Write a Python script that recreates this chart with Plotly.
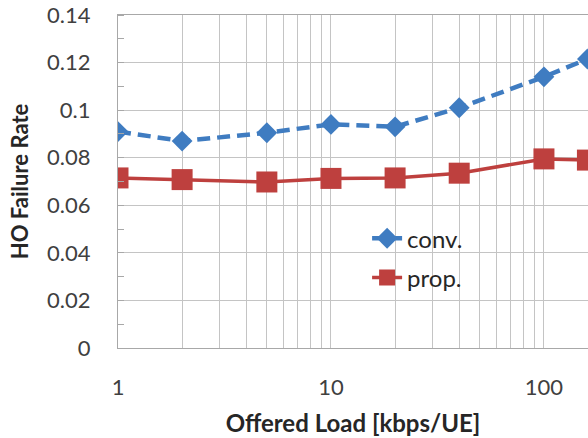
import math
import plotly.graph_objects as go

# ---- data ----
offered_load = [1, 2, 5, 10, 20, 40, 100, 160]
conv_rate = [0.091, 0.087, 0.0905, 0.094, 0.093, 0.101, 0.114, 0.1215]
prop_rate = [0.0715, 0.0708, 0.0698, 0.0713, 0.0715, 0.0735, 0.0795, 0.079]
series_names = ["conv.", "prop."]

x_tickvals = [1, 2, 3, 4, 5, 6, 7, 8, 9, 10, 20, 30, 40, 50, 60, 70, 80, 90, 100, 200]
x_ticktext = ["1", "", "", "", "", "", "", "", "", "10", "", "", "", "", "", "", "", "", "100", ""]
y_tickvals = [0, 0.02, 0.04, 0.06, 0.08, 0.1, 0.12, 0.14]
y_ticktext = ["0", "0.02", "0.04", "0.06", "0.08", "0.1", "0.12", "0.14"]

x_title = "Offered Load [kbps/UE]"
y_title = "HO Failure Rate"

BLUE = "#3F7CC1"
RED = "#BE403E"
GRID = "#C4C4C4"
AXIS = "#A8A8A8"
FONT = "Lato"

fig = go.Figure()
fig.add_trace(go.Scatter(
    x=offered_load, y=conv_rate, name=series_names[0], mode="lines+markers",
    line=dict(color=BLUE, width=4.5, dash="13px,7px"),
    marker=dict(symbol="diamond", size=16, color=BLUE),
    legendgroup="a",
))
fig.add_trace(go.Scatter(
    x=offered_load, y=prop_rate, name=series_names[1], mode="lines+markers",
    line=dict(color=RED, width=3.5),
    marker=dict(symbol="square", size=21, color=RED),
    legendgroup="b",
))

fig.update_layout(
    width=588, height=438,
    margin=dict(l=118, r=0, t=15, b=90, pad=0),
    paper_bgcolor="white", plot_bgcolor="white",
    font=dict(family=FONT, size=22, color="#404040"),
    showlegend=True,
    legend=dict(
        x=0.53, y=0.396, xanchor="left", yanchor="top",
        bgcolor="rgba(0,0,0,0)", font=dict(family=FONT, size=24, color="#262626"),
        traceorder="grouped", tracegroupgap=5, itemwidth=30,
    ),
    xaxis=dict(
        type="log", range=[0, math.log10(161)],
        tickvals=x_tickvals, ticktext=x_ticktext, ticks="",
        showgrid=True, gridcolor=GRID, gridwidth=1.2,
        showline=True, linecolor=AXIS, linewidth=1.2, mirror=True,
        zeroline=False, ticklabelstandoff=19,
        title=dict(text="<b>" + x_title + "</b>", standoff=16,
                   font=dict(family=FONT, size=24, color="#262626")),
        automargin=False,
    ),
    yaxis=dict(
        range=[0, 0.14], tickvals=y_tickvals, ticktext=y_ticktext, ticks="",
        showgrid=True, gridcolor=GRID, gridwidth=1.2,
        showline=True, linecolor=AXIS, linewidth=1.2,
        zeroline=False, ticklabelstandoff=22,
        minor=dict(dtick=0.01, tick0=0, ticks="inside", ticklen=6, tickcolor=AXIS, tickwidth=1.2, showgrid=False),
        title=dict(text="<b>" + y_title + "</b>", standoff=12,
                   font=dict(family=FONT, size=22, color="#262626")),
        automargin=False,
    ),
)

fig.write_html("out.html")
